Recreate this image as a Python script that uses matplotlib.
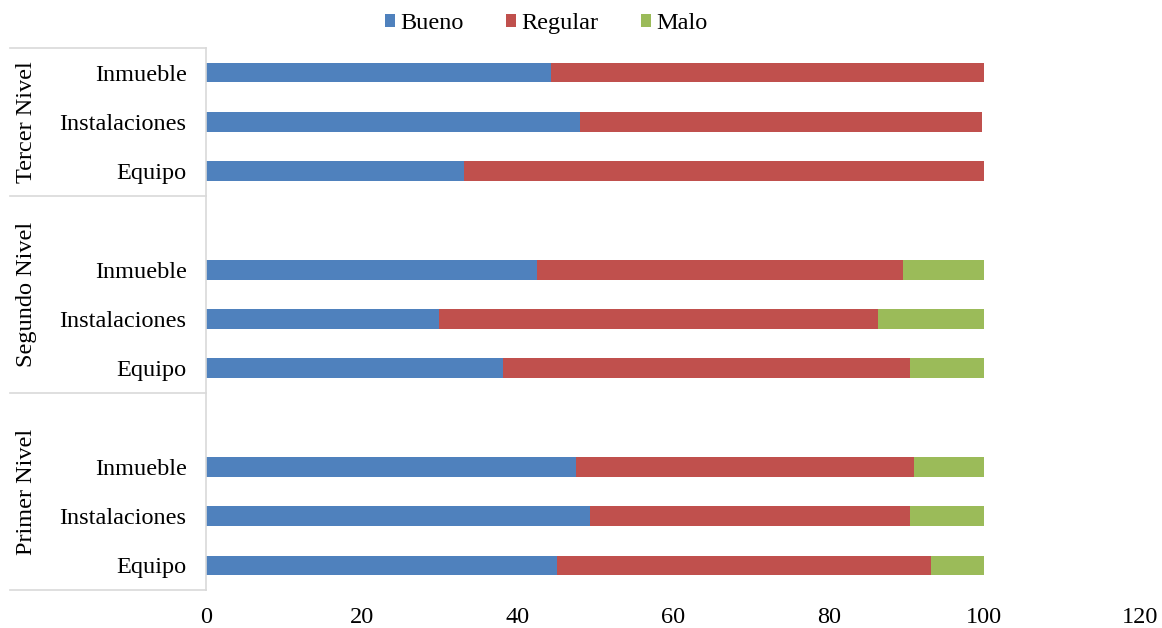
import matplotlib.pyplot as plt
import matplotlib.transforms as mtransforms
from matplotlib.patches import Patch

plt.rcParams['font.family'] = ['Liberation Serif', 'DejaVu Serif']

# Rows from top to bottom; None marks the blank row Excel leaves between groups
categories = ["Inmueble", "Instalaciones", "Equipo", None,
              "Inmueble", "Instalaciones", "Equipo", None,
              "Inmueble", "Instalaciones", "Equipo"]
bueno = [44.3, 48.0, 33.2, None, 42.5, 29.9, 38.1, None, 47.6, 49.3, 45.1]
regular = [55.7, 51.7, 66.8, None, 47.0, 56.5, 52.4, None, 43.4, 41.2, 48.0]
malo = [0.0, 0.0, 0.0, None, 10.5, 13.6, 9.5, None, 9.0, 9.5, 6.9]

groups = ["Tercer Nivel", "Segundo Nivel", "Primer Nivel"]
group_spans = [(-0.5, 2.5), (2.5, 6.5), (6.5, 10.5)]

series_names = ["Bueno", "Regular", "Malo"]
colors = ["#4F81BD", "#C0504D", "#9BBB59"]

FS = 17.5

fig = plt.figure(figsize=(11.62, 6.28), dpi=100)
ax = fig.add_axes([206 / 1162, 1 - 590 / 628, 934 / 1162, 542 / 628])

rows = [i for i, c in enumerate(categories) if c is not None]
b = [bueno[i] for i in rows]
r = [regular[i] for i in rows]
m = [malo[i] for i in rows]
left_r = b
left_m = [x + y for x, y in zip(b, r)]

h = 0.4
ax.barh(rows, b, height=h, color=colors[0], label=series_names[0])
ax.barh(rows, r, height=h, left=left_r, color=colors[1], label=series_names[1])
ax.barh(rows, m, height=h, left=left_m, color=colors[2], label=series_names[2])

ax.set_ylim(10.5, -0.5)
ax.set_xlim(0, 120)
ax.set_xticks(range(0, 121, 20))
ax.set_yticks(rows)
ax.set_yticklabels([categories[i] for i in rows])
ax.tick_params(axis='both', length=0, labelsize=FS)
ax.tick_params(axis='y', pad=14)
ax.tick_params(axis='x', pad=12)

for side in ["top", "right", "bottom"]:
    ax.spines[side].set_visible(False)
ax.spines["left"].set_color("#D9D9D9")
ax.spines["left"].set_linewidth(1.2)

# group separators and labels
trans = mtransforms.blended_transform_factory(ax.transAxes, ax.transData)
x0 = (10 - 206) / 934
edges = sorted(set([e for span in group_spans for e in span]))
for e in edges:
    ax.plot([x0, 0], [e, e], color="#D9D9D9", lw=1.2, transform=trans, clip_on=False)
for name, (top, bottom) in zip(groups, group_spans):
    ax.text((27 - 206) / 934, (top + bottom) / 2, name, rotation=90,
            ha="center", va="center", fontsize=FS, transform=trans)

handles = [Patch(facecolor=c, label=n) for c, n in zip(colors, series_names)]
fig.legend(handles=handles, loc="center", bbox_to_anchor=(0.47, 0.962), ncol=3,
           frameon=False, fontsize=FS, handlelength=0.42, handleheight=0.42,
           handletextpad=0.2, columnspacing=1.75)

fig.savefig("out.png", dpi=100)
